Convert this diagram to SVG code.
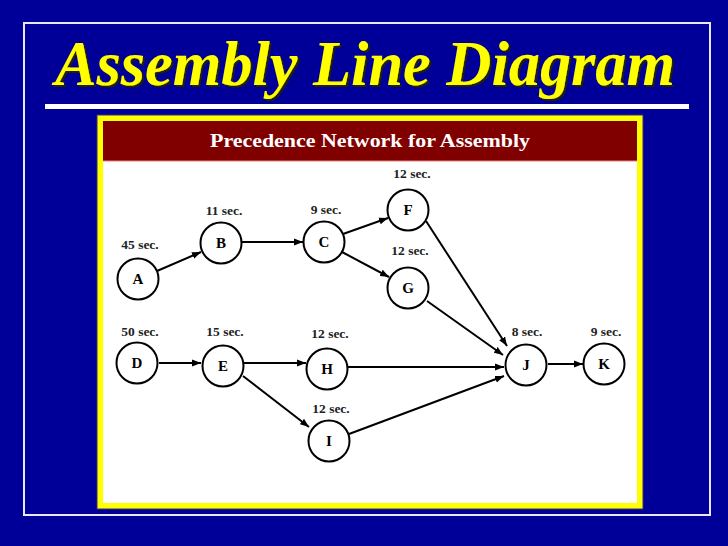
<svg xmlns="http://www.w3.org/2000/svg" width="728" height="546" viewBox="0 0 728 546">
<style>
.node circle{fill:#fff;stroke:#000;stroke-width:2}
.nl{font-family:"Liberation Serif","Times New Roman",serif;font-weight:bold;font-size:15px;fill:#000;text-anchor:middle}
.tl{font-family:"Liberation Serif","Times New Roman",serif;font-weight:bold;font-size:13.5px;fill:#222;text-anchor:middle}
#edges line{stroke:#000;stroke-width:2;marker-end:url(#ah)}
</style>
<defs>
<marker id="ah" markerUnits="userSpaceOnUse" markerWidth="10" markerHeight="8" refX="9" refY="4" orient="auto">
<path d="M0,0.5 L9,4 L0,7.5 z" fill="#000"/>
</marker>
<filter id="sh" x="-5%" y="-20%" width="110%" height="140%">
<feDropShadow dx="2" dy="2" stdDeviation="0.6" flood-color="#222200" flood-opacity="0.9"/>
</filter>
</defs>
<rect x="0" y="0" width="728" height="546" fill="#000099"/>
<rect x="24" y="23" width="686" height="492" fill="none" stroke="#e8e8f8" stroke-width="2"/>
<g id="title">
<text x="365" y="85" font-family="'Liberation Serif','Times New Roman',serif" font-style="italic" font-weight="bold" font-size="64" fill="#ffff00" text-anchor="middle" textLength="620" lengthAdjust="spacingAndGlyphs" filter="url(#sh)">Assembly Line Diagram</text>
</g>
<rect x="45" y="104" width="644" height="5" fill="#ffffff"/>
<rect x="97" y="115" width="546" height="394" fill="#ffff00" stroke="#333366" stroke-width="1"/>
<rect x="103" y="121" width="534" height="382" fill="#ffffff"/>
<rect x="103" y="121" width="534" height="40" fill="#800000"/>
<line x1="103" y1="161" x2="637" y2="161" stroke="#e88080" stroke-width="1"/>
<text x="370" y="147" font-family="'Liberation Serif','Times New Roman',serif" font-weight="bold" font-size="18" fill="#ffffff" text-anchor="middle" textLength="320" lengthAdjust="spacingAndGlyphs">Precedence Network for Assembly</text>
<g id="edges">
<line x1="157" y1="271" x2="201" y2="252"/>
<line x1="242" y1="242" x2="303" y2="242"/>
<line x1="343" y1="234" x2="388" y2="218"/>
<line x1="342" y1="252" x2="389" y2="277"/>
<line x1="426" y1="221" x2="507" y2="346"/>
<line x1="427" y1="301" x2="503" y2="355"/>
<line x1="348" y1="367" x2="504" y2="367"/>
<line x1="349" y1="434" x2="504" y2="376"/>
<line x1="548" y1="364" x2="583" y2="364"/>
<line x1="159" y1="363" x2="201" y2="363"/>
<line x1="244" y1="363" x2="306" y2="363"/>
<line x1="243" y1="376" x2="309" y2="427"/>
</g>
<g id="A" class="node"><circle cx="138" cy="279" r="20.5"/><text class="nl" x="138" y="284">A</text><text class="tl" x="140" y="249">45 sec.</text></g>
<g id="B" class="node"><circle cx="221" cy="243" r="20.5"/><text class="nl" x="221" y="248">B</text><text class="tl" x="224" y="215">11 sec.</text></g>
<g id="C" class="node"><circle cx="324" cy="242" r="20.5"/><text class="nl" x="324" y="247">C</text><text class="tl" x="326" y="214">9 sec.</text></g>
<g id="F" class="node"><circle cx="408" cy="210" r="20.5"/><text class="nl" x="408" y="215">F</text><text class="tl" x="412" y="178">12 sec.</text></g>
<g id="G" class="node"><circle cx="408" cy="288" r="20.5"/><text class="nl" x="408" y="293">G</text><text class="tl" x="410" y="255">12 sec.</text></g>
<g id="D" class="node"><circle cx="137" cy="363" r="20.5"/><text class="nl" x="137" y="368">D</text><text class="tl" x="140" y="336">50 sec.</text></g>
<g id="E" class="node"><circle cx="223" cy="366" r="20.5"/><text class="nl" x="223" y="371">E</text><text class="tl" x="225" y="336">15 sec.</text></g>
<g id="H" class="node"><circle cx="327" cy="369" r="20.5"/><text class="nl" x="327" y="374">H</text><text class="tl" x="330" y="338">12 sec.</text></g>
<g id="I" class="node"><circle cx="329" cy="441" r="20.5"/><text class="nl" x="329" y="446">I</text><text class="tl" x="331" y="413">12 sec.</text></g>
<g id="J" class="node"><circle cx="526" cy="365" r="20.5"/><text class="nl" x="526" y="370">J</text><text class="tl" x="527" y="336">8 sec.</text></g>
<g id="K" class="node"><circle cx="604" cy="364" r="20.5"/><text class="nl" x="604" y="369">K</text><text class="tl" x="606" y="336">9 sec.</text></g>
</svg>
